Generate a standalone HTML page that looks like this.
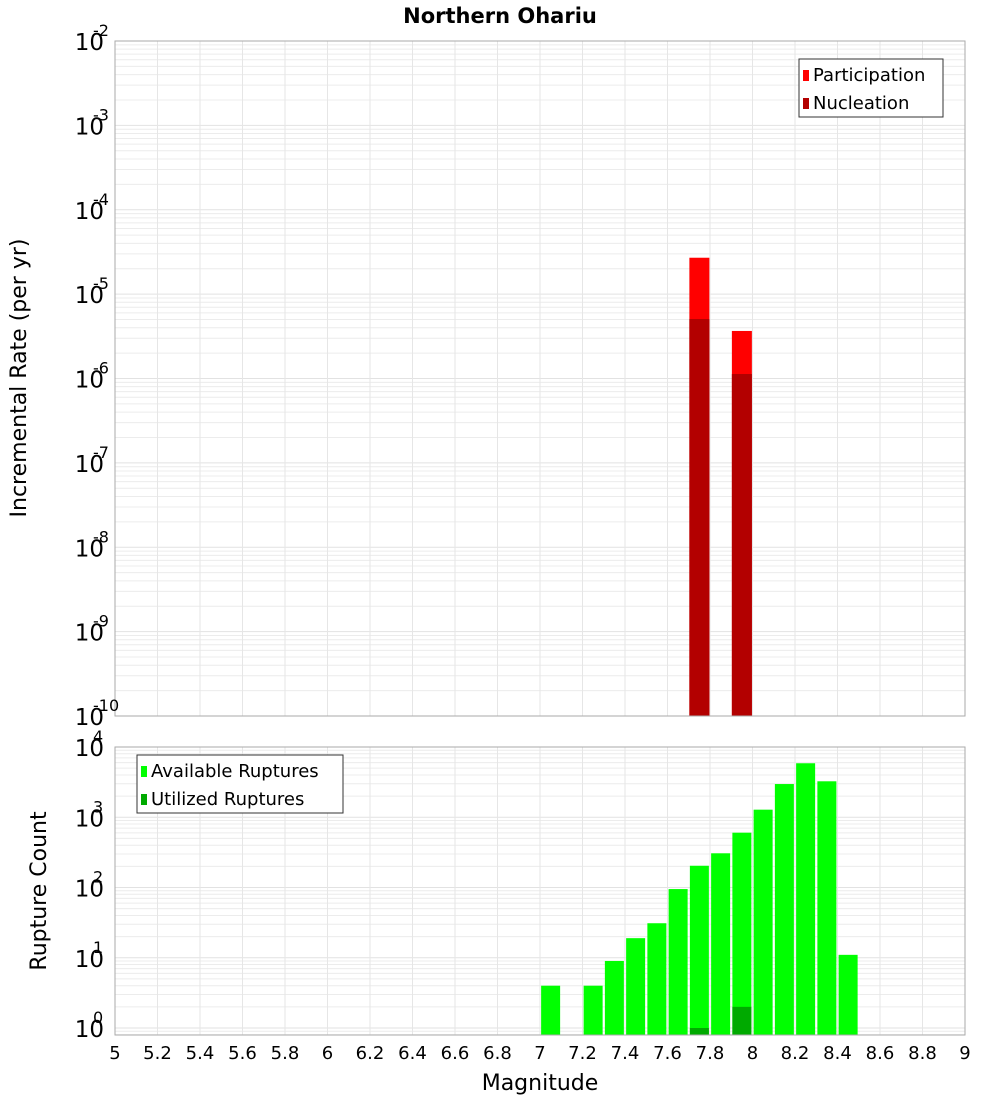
<!DOCTYPE html>
<html><head><meta charset="utf-8"><style>
body{margin:0;background:#fff;}
svg text{font-family:"DejaVu Sans","Liberation Sans",sans-serif;}
</style></head><body>
<svg id="chart" width="1000" height="1100" xmlns="http://www.w3.org/2000/svg">
<text x="500" y="23" text-anchor="middle" font-size="21" font-weight="bold">Northern Ohariu</text>
<text transform="translate(26,378) rotate(-90)" text-anchor="middle" font-size="22">Incremental Rate (per yr)</text>
<text transform="translate(46,891) rotate(-90)" text-anchor="middle" font-size="22">Rupture Count</text>
<text x="540" y="1090" text-anchor="middle" font-size="22">Magnitude</text>
<g id="g"></g>
</svg>
<script>
const binCenters=[7.75,7.95];
const participation=[2.7e-5,3.66e-6];
const nucleation=[5.07e-6,1.13e-6];
const availMags=[7.05,7.25,7.35,7.45,7.55,7.65,7.75,7.85,7.95,8.05,8.15,8.25,8.35,8.45];
const availCounts=[4,4,9,19,31,95,204,307,603,1282,2970,5870,3250,11];
const utilMags=[7.75,7.95];
const utilCounts=[1,2];
const xTicks=[5,5.2,5.4,5.6,5.8,6,6.2,6.4,6.6,6.8,7,7.2,7.4,7.6,7.8,8,8.2,8.4,8.6,8.8,9];
const topExps=[-2,-3,-4,-5,-6,-7,-8,-9,-10];
const botExps=[4,3,2,1,0];

const NS="http://www.w3.org/2000/svg";
const g=document.getElementById('g');
function mk(t,a,p){const e=document.createElementNS(NS,t);for(const k in a)e.setAttribute(k,a[k]);(p||g).appendChild(e);return e;}
const X0=115,X1=965;
const x=m=>X0+(m-5)/4*(X1-X0);
const yTop=v=>41+(-2-Math.log10(v))*84.375;
const yBot=v=>1028-Math.log10(v)*70.25;
const BW=20;

function grid(yT,yB,yf,emin,emax){
  for(let e=emin;e<emax;e++)for(let k=1;k<10;k++){const yy=yf(k*Math.pow(10,e));if(yy<yT-0.5||yy>yB+0.5)continue;
    const l=mk('line',{x1:X0,x2:X1,y1:yy,y2:yy,stroke:k==1?'#e2e2e2':'#ececec','stroke-width':1});
    }
  for(let i=0;i<=20;i++){const m=5+i*0.2;const l=mk('line',{x1:x(m),x2:x(m),y1:yT,y2:yB,stroke:'#e6e6e6'});
    }
}
grid(41,716,yTop,-11,-1);
grid(747,1035,yBot,-1,5);

// top bars
binCenters.forEach((m,i)=>{
  const r=mk('rect',{x:x(m)-BW/2,y:yTop(participation[i]),width:BW,height:716-yTop(participation[i]),fill:'#ff0000'});
  
  const n=mk('rect',{x:x(m)-BW/2,y:yTop(nucleation[i]),width:BW,height:716-yTop(nucleation[i]),fill:'#b30000'});
  
});
// bottom bars
availMags.forEach((m,i)=>{
  const r=mk('rect',{x:x(m)-9.5,y:yBot(availCounts[i]),width:19,height:1035-yBot(availCounts[i]),fill:'#00ff00'});
  
});
utilMags.forEach((m,i)=>{
  const r=mk('rect',{x:x(m)-9.5,y:yBot(utilCounts[i]),width:19,height:1035-yBot(utilCounts[i]),fill:'#00aa00'});
  
});
// frames
const f1=mk('rect',{x:X0,y:41,width:X1-X0,height:675,fill:'none',stroke:'#aaa'});

const f2=mk('rect',{x:X0,y:747,width:X1-X0,height:288,fill:'none',stroke:'#aaa'});


function ylab(e,yy,name){
  const t=mk('text',{x:104,y:yy+9,'text-anchor':'end','font-size':23});
  
  t.textContent='10';
  const s=mk('text',{x:93,y:yy-5,'font-size':16});
  
  s.textContent=String(e);
}
topExps.forEach(e=>ylab(e,yTop(Math.pow(10,e)),'top-y-tick-label'));
botExps.forEach(e=>ylab(e,yBot(Math.pow(10,e)),'bottom-y-tick-label'));
xTicks.forEach(m=>{
  const t=mk('text',{x:x(m),y:1059,'text-anchor':'middle','font-size':18});
  
  t.textContent=String(m);
});
// legends
function legend(lx,ly,w,items,name){
  const lg=mk('g',{});
  const b=mk('rect',{x:lx,y:ly,width:w,height:58,fill:'#fff',stroke:'#333'},lg);
  
  items.forEach((it,i)=>{
    const s=mk('rect',{x:lx+4,y:ly+11+i*28,width:6,height:11,fill:it[1]},lg);
    
    const t=mk('text',{x:lx+14,y:ly+22+i*28,'font-size':18},lg);
    
    t.textContent=it[0];
  });
}
legend(799,59,144,[['Participation','#ff0000'],['Nucleation','#b30000']],'top-legend');
legend(137,755,206,[['Available Ruptures','#00ff00'],['Utilized Ruptures','#00aa00']],'bottom-legend');
</script>
</body></html>
